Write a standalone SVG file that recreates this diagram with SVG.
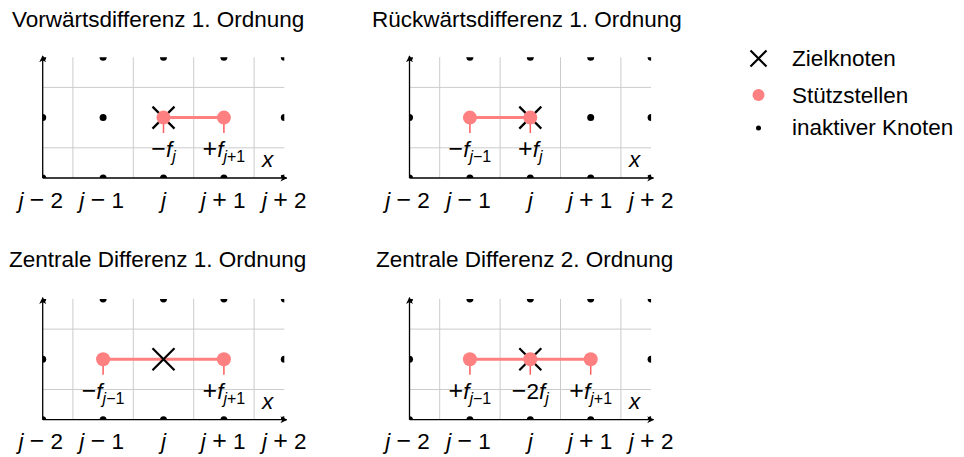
<svg xmlns="http://www.w3.org/2000/svg" xmlns:xlink="http://www.w3.org/1999/xlink" width="964" height="457" viewBox="0 0 964 457">
<style>
text{font-family:"Liberation Sans",Arial,sans-serif;fill:#000}
.title{font-size:22.5px}
.leg{font-size:22.5px}
.m{font-size:22.5px}
.it{font-style:italic}
.sub{font-size:16px}
.op{font-size:25px}
.grid{stroke:#cccccc;stroke-width:1;fill:none}
.axis{stroke:#000;stroke-width:1.3;fill:none}
.dot{fill:#000}
.link{stroke:#ff8080;stroke-width:3;fill:none}
.tick{stroke:#ff5c5c;stroke-width:1.5}
.pt{fill:#ff8080}
.cross{stroke:#000;stroke-width:2.2;fill:none}
</style>
<defs>
<marker id="arr" viewBox="0 0 10 10" refX="9" refY="5" markerWidth="7" markerHeight="7" markerUnits="userSpaceOnUse" orient="auto">
<path d="M0,0 L10,5 L0,10 L3,5 Z" fill="#000"/>
</marker>
<clipPath id="clip" clipPathUnits="userSpaceOnUse"><rect x="0" y="-120.8" width="241.6" height="120.8"/></clipPath>
<g id="base">
<path class="grid" d="M30.2,-120.8V0M90.6,-120.8V0M151,-120.8V0M211.4,-120.8V0M0,-30.2H241.6M0,-90.6H241.6"/>
<g clip-path="url(#clip)">
<circle class="dot" cx="0" cy="-120.8" r="3.5"/><circle class="dot" cx="60.4" cy="-120.8" r="3.5"/><circle class="dot" cx="120.8" cy="-120.8" r="3.5"/><circle class="dot" cx="181.2" cy="-120.8" r="3.5"/><circle class="dot" cx="241.6" cy="-120.8" r="3.5"/>
<circle class="dot" cx="0" cy="0" r="3.5"/><circle class="dot" cx="60.4" cy="0" r="3.5"/><circle class="dot" cx="120.8" cy="0" r="3.5"/><circle class="dot" cx="181.2" cy="0" r="3.5"/><circle class="dot" cx="241.6" cy="0" r="3.5"/>
<circle class="dot" cx="0" cy="-60.4" r="3.5"/><circle class="dot" cx="241.6" cy="-60.4" r="3.5"/>
</g>
<path class="axis" d="M0,0H244" marker-end="url(#arr)"/>
<path class="axis" d="M0,0V-122" marker-end="url(#arr)"/>
<text class="m it" x="225" y="-11" text-anchor="middle">x</text>
<text class="m" x="-2" y="29.5" text-anchor="middle"><tspan class="it">j</tspan> <tspan class="op">−</tspan> 2</text>
<text class="m" x="59" y="29.5" text-anchor="middle"><tspan class="it">j</tspan> <tspan class="op">−</tspan> 1</text>
<text class="m it" x="120.8" y="29.5" text-anchor="middle">j</text>
<text class="m" x="180.5" y="29.5" text-anchor="middle"><tspan class="it">j</tspan> <tspan class="op">+</tspan> 1</text>
<text class="m" x="241.6" y="29.5" text-anchor="middle"><tspan class="it">j</tspan> <tspan class="op">+</tspan> 2</text>
</g>
<g id="xm"><path class="cross" d="M-11,-11L11,11M-11,11L11,-11"/></g>
</defs>

<g id="panel-forward">
<text class="title" x="12" y="27">Vorwärtsdifferenz 1. Ordnung</text>
<g transform="translate(42.7,178)">
<use xlink:href="#base"/>
<circle class="dot" cx="60.4" cy="-60.4" r="3.5"/>
<g id="connectors-forward"><path class="link" d="M120.8,-60.4H181.2"/></g>
<g id="fw-j"><use xlink:href="#xm" x="120.8" y="-60.4"/><line class="tick" x1="120.8" y1="-60.4" x2="120.8" y2="-45"/><circle class="pt" cx="120.8" cy="-60.4" r="7"/>
<text class="m" x="120.8" y="-21" text-anchor="middle"><tspan class="op">−</tspan><tspan class="it">f</tspan><tspan class="sub it" dy="5">j</tspan></text></g>
<g id="fw-j1"><line class="tick" x1="181.2" y1="-60.4" x2="181.2" y2="-45"/><circle class="pt" cx="181.2" cy="-60.4" r="7"/>
<text class="m" x="181.2" y="-21" text-anchor="middle"><tspan class="op">+</tspan><tspan class="it">f</tspan><tspan class="sub" dy="5"><tspan class="it">j</tspan>+1</tspan></text></g>
</g>
</g>

<g id="panel-backward">
<text class="title" x="372" y="27">Rückwärtsdifferenz 1. Ordnung</text>
<g transform="translate(409.5,178)">
<use xlink:href="#base"/>
<circle class="dot" cx="181.2" cy="-60.4" r="3.5"/>
<g id="connectors-backward"><path class="link" d="M60.4,-60.4H120.8"/></g>
<g id="bw-jm1"><line class="tick" x1="60.4" y1="-60.4" x2="60.4" y2="-45"/><circle class="pt" cx="60.4" cy="-60.4" r="7"/>
<text class="m" x="60.4" y="-21" text-anchor="middle"><tspan class="op">−</tspan><tspan class="it">f</tspan><tspan class="sub" dy="5"><tspan class="it">j</tspan>−1</tspan></text></g>
<g id="bw-j"><use xlink:href="#xm" x="120.8" y="-60.4"/><line class="tick" x1="120.8" y1="-60.4" x2="120.8" y2="-45"/><circle class="pt" cx="120.8" cy="-60.4" r="7"/>
<text class="m" x="120.8" y="-21" text-anchor="middle"><tspan class="op">+</tspan><tspan class="it">f</tspan><tspan class="sub it" dy="5">j</tspan></text></g>
</g>
</g>

<g id="panel-central1">
<text class="title" x="9" y="267">Zentrale Differenz 1. Ordnung</text>
<g transform="translate(42.7,419.7)">
<use xlink:href="#base"/>
<g id="connectors-central1"><path class="link" d="M60.4,-60.4H181.2"/></g>
<g id="c1-j"><use xlink:href="#xm" x="120.8" y="-60.4"/></g>
<g id="c1-jm1"><line class="tick" x1="60.4" y1="-60.4" x2="60.4" y2="-45"/><circle class="pt" cx="60.4" cy="-60.4" r="7"/>
<text class="m" x="60.4" y="-21" text-anchor="middle"><tspan class="op">−</tspan><tspan class="it">f</tspan><tspan class="sub" dy="5"><tspan class="it">j</tspan>−1</tspan></text></g>
<g id="c1-j1"><line class="tick" x1="181.2" y1="-60.4" x2="181.2" y2="-45"/><circle class="pt" cx="181.2" cy="-60.4" r="7"/>
<text class="m" x="181.2" y="-21" text-anchor="middle"><tspan class="op">+</tspan><tspan class="it">f</tspan><tspan class="sub" dy="5"><tspan class="it">j</tspan>+1</tspan></text></g>
</g>
</g>

<g id="panel-central2">
<text class="title" x="376" y="267">Zentrale Differenz 2. Ordnung</text>
<g transform="translate(409.5,419.7)">
<use xlink:href="#base"/>
<g id="connectors-central2"><path class="link" d="M60.4,-60.4H181.2"/></g>
<g id="c2-jm1"><line class="tick" x1="60.4" y1="-60.4" x2="60.4" y2="-45"/><circle class="pt" cx="60.4" cy="-60.4" r="7"/>
<text class="m" x="60.4" y="-21" text-anchor="middle"><tspan class="op">+</tspan><tspan class="it">f</tspan><tspan class="sub" dy="5"><tspan class="it">j</tspan>−1</tspan></text></g>
<g id="c2-j"><use xlink:href="#xm" x="120.8" y="-60.4"/><line class="tick" x1="120.8" y1="-60.4" x2="120.8" y2="-45"/><circle class="pt" cx="120.8" cy="-60.4" r="7"/>
<text class="m" x="120.8" y="-21" text-anchor="middle"><tspan class="op">−</tspan>2<tspan class="it">f</tspan><tspan class="sub it" dy="5">j</tspan></text></g>
<g id="c2-j1"><line class="tick" x1="181.2" y1="-60.4" x2="181.2" y2="-45"/><circle class="pt" cx="181.2" cy="-60.4" r="7"/>
<text class="m" x="181.2" y="-21" text-anchor="middle"><tspan class="op">+</tspan><tspan class="it">f</tspan><tspan class="sub" dy="5"><tspan class="it">j</tspan>+1</tspan></text></g>
</g>
</g>

<g id="legend">
<g id="leg-target"><path class="cross" d="M750.5,50.5L766.5,66.5M750.5,66.5L766.5,50.5"/><text class="leg" x="792" y="66">Zielknoten</text></g>
<g id="leg-support"><circle class="pt" cx="758.5" cy="95" r="6"/><text class="leg" x="792" y="103">Stützstellen</text></g>
<g id="leg-inactive"><circle class="dot" cx="758.5" cy="128" r="2.5"/><text class="leg" x="792" y="135">inaktiver Knoten</text></g>
</g>
</svg>
